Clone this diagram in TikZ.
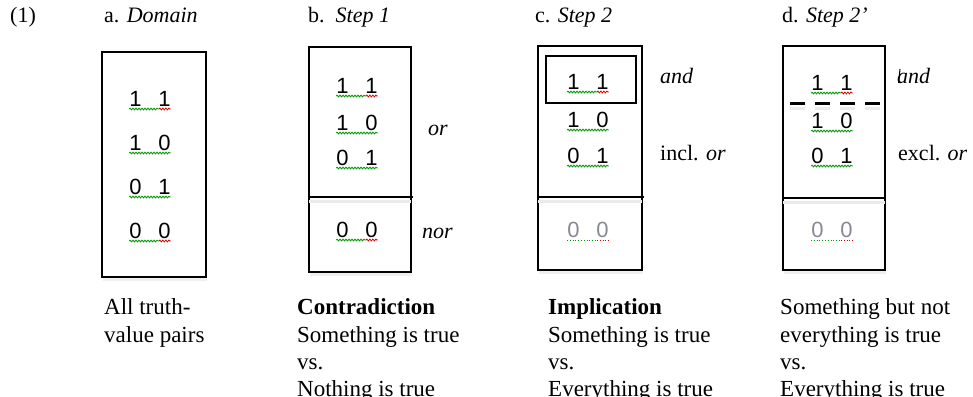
\documentclass[tikz,border=0pt]{standalone}
\usepackage{fontspec}
\setmainfont{Liberation Serif}
\newfontfamily\digitfont{Liberation Sans}
\usetikzlibrary{decorations.pathmorphing,shadows}
\definecolor{greydig}{RGB}{135,138,150}

\newcommand\tvpair[6]{% name, x, baseline y, d1, d2, style (ok/grey)
  \node[digit,#6,anchor=base] (#1) at (#2,#3) {#4\hspace{17pt}#5};
  \draw[sqg#6] ([yshift=-3pt]#1.base west) -- ([yshift=-3pt]#1.base east);
}
\newcommand\tvpairred[6]{% name, x, baseline y, d1, d2, style (ok/grey)
  \node[digit,#6,anchor=base] (#1) at (#2,#3) {#4\hspace{17pt}#5};
  \draw[sqg#6] ([yshift=-3pt]#1.base west) -- ([yshift=-3pt,xshift=-12pt]#1.base east);
  \draw[sqr#6] ([yshift=-3pt,xshift=-12pt]#1.base east) -- ([yshift=-3pt]#1.base east);
}

\begin{document}
\begin{tikzpicture}[x=1pt,y=-1pt,
  box/.style={draw=black,line width=2.2pt,fill=white,inner sep=0pt,outer sep=0pt,
    anchor=north west,drop shadow={opacity=0.12,shadow xshift=1pt,shadow yshift=-4pt}},
  innerbox/.style={draw=black,line width=2.2pt,inner sep=0pt,outer sep=0pt,anchor=north west},
  divider/.style={line width=2.2pt,black},
  dshadow/.style={line width=3pt,black!8},
  digit/.style={font=\digitfont\fontsize{22}{25}\selectfont,inner sep=0pt},
  ok/.style={text=black},
  grey/.style={text=greydig},
  sqgok/.style={draw=green!60!black,line width=0.8pt,decorate,decoration={snake,amplitude=0.9pt,segment length=3pt}},
  sqrok/.style={draw=red!85!black,line width=0.8pt,decorate,decoration={snake,amplitude=0.9pt,segment length=3pt}},
  sqggrey/.style={draw=green!60!black,line width=0.8pt,dotted},
  sqrgrey/.style={draw=red!85!black,line width=0.8pt,dotted},
  title/.style={font=\fontsize{22}{26}\selectfont,inner sep=0pt,anchor=base west},
  lbl/.style={font=\fontsize{22}{26}\selectfont,inner sep=0pt,anchor=base west},
  txt/.style={font=\fontsize{23}{27}\selectfont,inner sep=0pt,anchor=base west},
]
\useasboundingbox[fill=white] (0,0) rectangle (973,396);

% titles
\node[title] (t0) at (10,23) {(1)};
\node[title] (ta) at (104,23) {a. \textit{Domain}};
\node[title] (tb) at (308,23) {b.\ \ \textit{Step 1}};
\node[title] (tc) at (535,23) {c. \textit{Step 2}};
\node[title] (td) at (782,23) {d. \textit{Step 2’}};

% boxes
\node[box,minimum width=104pt,minimum height=225pt] (boxA) at (102,52) {};
\node[box,minimum width=102pt,minimum height=225pt] (boxB) at (309,47) {};
\node[box,minimum width=104pt,minimum height=224pt] (boxC) at (538,46) {};
\node[box,minimum width=102pt,minimum height=224pt] (boxD) at (783,46) {};

% dividers
\coordinate (divB) at (0,197);
\coordinate (divC) at (0,197);
\coordinate (divD) at (0,198);
\coordinate (dashD) at (0,103);
\draw[dshadow] ([yshift=-4pt]boxB.west |- divB) -- ([yshift=-4pt]boxB.east |- divB);
\draw[dshadow] ([yshift=-4pt]boxC.west |- divC) -- ([yshift=-4pt]boxC.east |- divC);
\draw[dshadow] ([yshift=-4pt]boxD.west |- divD) -- ([yshift=-4pt]boxD.east |- divD);
\draw[divider] (boxB.west |- divB) -- ([xshift=2pt]boxB.east |- divB);
\draw[divider] (boxC.west |- divC) -- ([xshift=2pt]boxC.east |- divC);
\draw[divider] (boxD.west |- divD) -- ([xshift=1pt]boxD.east |- divD);

% inner box in c
\node[innerbox,minimum width=90pt,minimum height=47pt] (boxC11) at (546,56) {};

% dashed line in d
\draw[dshadow,dash pattern=on 15pt off 10pt] ([xshift=7pt,yshift=-5pt]boxD.west |- dashD) -- ([xshift=5pt,yshift=-5pt]boxD.east |- dashD);
\draw[line width=3pt,dash pattern=on 15pt off 10pt] ([xshift=7pt]boxD.west |- dashD) -- ([xshift=5pt]boxD.east |- dashD);

% truth-value pairs
\tvpairred{a11}{150}{106}{1}{1}{ok}
\tvpair{a10}{150}{150}{1}{0}{ok}
\tvpair{a01}{150}{194}{0}{1}{ok}
\tvpairred{a00}{150}{238}{0}{0}{ok}

\tvpairred{b11}{357}{93}{1}{1}{ok}
\tvpair{b10}{357}{130}{1}{0}{ok}
\tvpair{b01}{357}{165}{0}{1}{ok}
\tvpairred{b00}{357}{237}{0}{0}{ok}

\tvpairred{c11}{588}{89}{1}{1}{ok}
\tvpair{c10}{588}{127}{1}{0}{ok}
\tvpair{c01}{588}{163}{0}{1}{ok}
\tvpairred{c00}{588}{237}{0}{0}{grey}

\tvpairred{d11}{832}{90}{1}{1}{ok}
\tvpair{d10}{832}{128}{1}{0}{ok}
\tvpair{d01}{832}{163}{0}{1}{ok}
\tvpairred{d00}{832}{237}{0}{0}{grey}

% right labels
\node[lbl] (lor) at (428,135) {\textit{or}};
\node[lbl] (lnor) at (422,238) {\textit{nor}};
\node[lbl] (land) at (660,83) {\textit{and}};
\node[lbl] (lincl) at (660,160) {incl. \textit{or}};
\node[lbl] (landd) at (897,83) {\textit{and}};
\draw[line width=1pt] ([xshift=1.5pt,yshift=0pt]landd.base west) -- ([xshift=3pt,yshift=14pt]landd.base west);
\node[lbl] (lexcl) at (898,160) {excl. \textit{or}};

% bottom texts
\node[txt] (a1) at (104,314) {All truth-};
\node[txt] (a2) at (104,342) {value pairs};

\node[txt] (b1) at (297,314) {\textbf{Contradiction}};
\node[txt] (b2) at (297,342) {Something is true};
\node[txt] (b3) at (297,369) {vs.};
\node[txt] (b4) at (297,396) {Nothing is true};

\node[txt] (c1) at (548,314) {\textbf{Implication}};
\node[txt] (c2) at (548,342) {Something is true};
\node[txt] (c3) at (548,369) {vs.};
\node[txt] (c4) at (548,396) {Everything is true};

\node[txt] (d1) at (780,314) {Something but not};
\node[txt] (d2) at (780,342) {everything is true};
\node[txt] (d3) at (780,369) {vs.};
\node[txt] (d4) at (780,396) {Everything is true};
\end{tikzpicture}
\end{document}
